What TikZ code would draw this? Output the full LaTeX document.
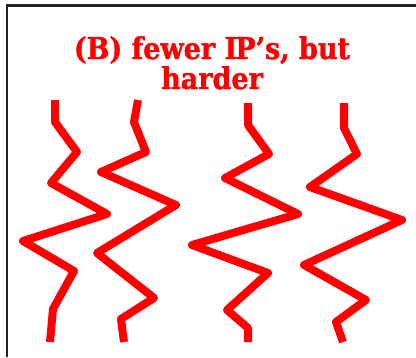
\documentclass[tikz,border=0pt]{standalone}
\usepackage{fontspec}
\newfontfamily\titlefont[FakeStretch=0.9,BoldFeatures={FakeBold=1.2}]{DejaVu Serif}
\usepackage{xcolor}
\definecolor{framegray}{HTML}{222222}

\begin{document}
\begin{tikzpicture}[x=1pt,y=-1pt,
  wave/.style={red,line width=8pt,line join=round}]
\useasboundingbox (0,0) rectangle (416,357);
% frame
\draw[framegray,line width=2.5pt] (7,357) -- (7,5.5) -- (416,5.5);
% title
\node[red,font=\titlefont\bfseries\fontsize{30}{30}\selectfont,align=center,anchor=base]
  (title) at (212,89) {(B) fewer I\kern-0.06em P’s, but\\harder};
% zigzag 1
\draw[wave] (55,100) -- (55,122) -- (77,152) -- (51,183) -- (107,214)
  -- (23,241) -- (74,271) -- (53,309) -- (50,342);
% zigzag 2
\draw[wave] (138,100) -- (134,122) -- (146,152) -- (101,172) -- (176,205)
  -- (97,253) -- (154,298) -- (121,319) -- (124,342);
% zigzag 3
\draw[wave] (248,103) -- (248,125) -- (269,154) -- (225,178) -- (298,214)
  -- (192,245) -- (268,273) -- (227,310) -- (248,328) -- (248,342);
% zigzag 4
\draw[wave] (344,103) -- (344,128) -- (357,154) -- (310,187) -- (402,220)
  -- (304,265) -- (366,300) -- (336,322) -- (343,342);
\end{tikzpicture}
\end{document}
